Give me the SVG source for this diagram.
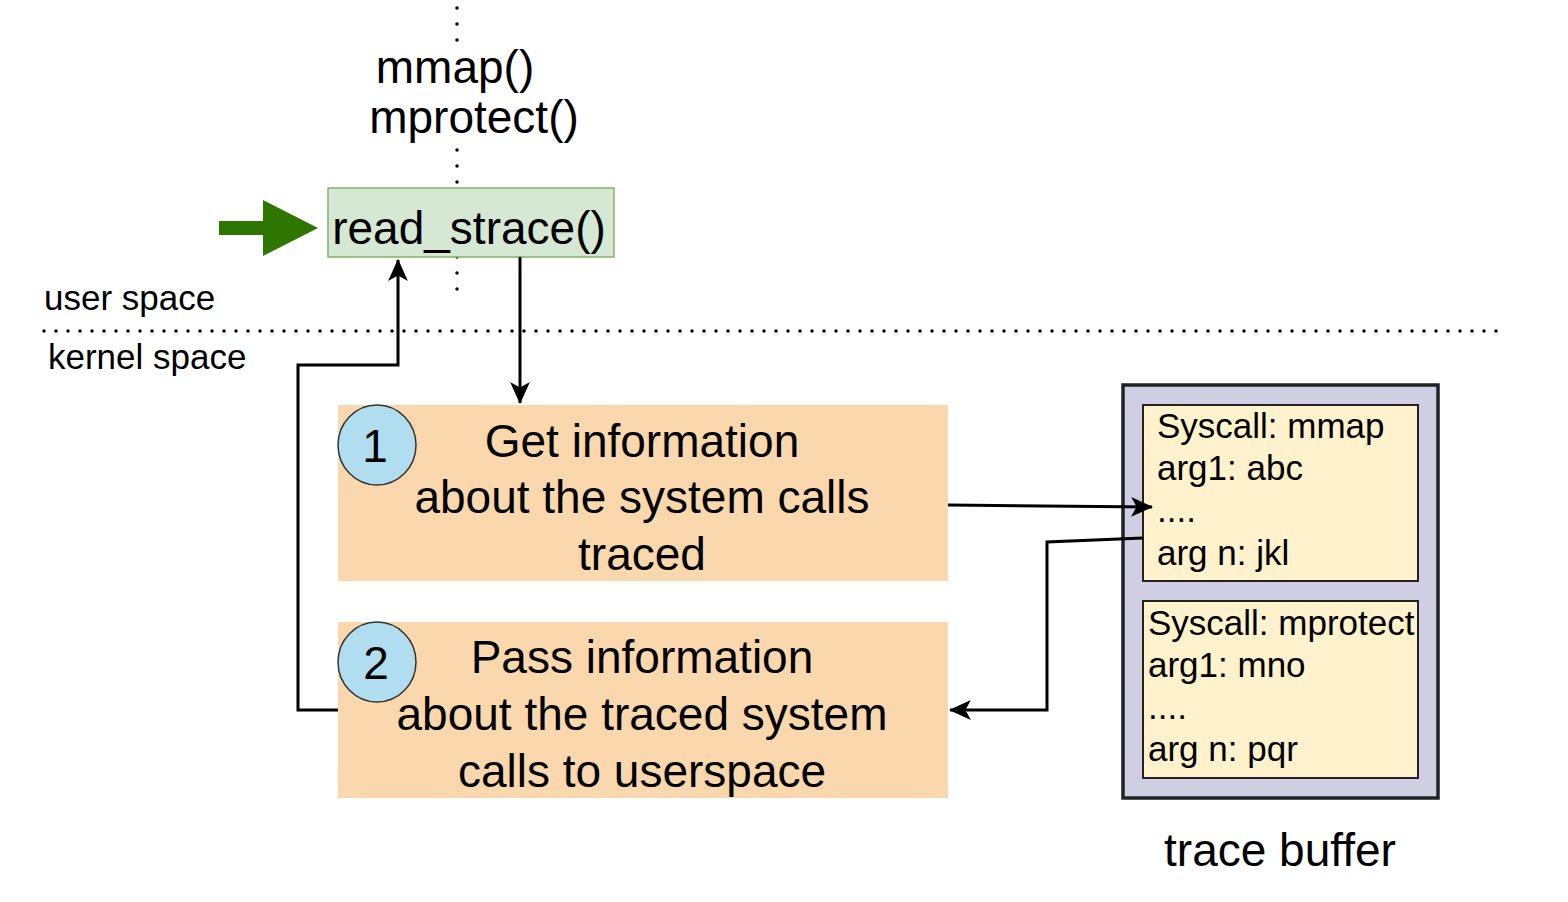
<svg xmlns="http://www.w3.org/2000/svg" width="1568" height="902" viewBox="0 0 1568 902">
<style>
text{font-family:"Liberation Sans",Arial,sans-serif;fill:#000}
.big{font-size:46px}
.mid{font-size:35px}
.lbl{font-size:35px}
.c{text-anchor:middle}
.dot{stroke:#000;stroke-width:3.5;stroke-linecap:round;fill:none}
.edge{stroke:#000;stroke-width:3;fill:none}
</style>
<defs>
<marker id="ah2" viewBox="0 0 20 20" refX="19" refY="10" markerWidth="22" markerHeight="22" markerUnits="userSpaceOnUse" orient="auto">
<path d="M0,1 L20,10 L0,19 L5,10 Z" fill="#000"/>
</marker>
</defs>

<g id="separators">
<path class="dot" d="M457,8 V42" stroke-dasharray="0 16"/>
<path class="dot" d="M457,150 V184" stroke-dasharray="0 16"/>
<path class="dot" d="M457,257 V291" stroke-dasharray="0 16"/>
<path class="dot" d="M44,331 H1497" stroke-dasharray="0 12"/>
</g>

<g id="labels">
<text class="big c" x="455" y="83">mmap()</text>
<text class="big c" x="474" y="133">mprotect()</text>
<text class="lbl" x="44" y="310">user space</text>
<text class="lbl" x="48" y="369">kernel space</text>
<text class="big c" x="1280" y="866">trace buffer</text>
</g>

<g id="start-arrow">
<path d="M219,221 H263 V200 L318,228 L263,256 V235 H219 Z" fill="#2d7600"/>
</g>

<g id="read_strace">
<rect x="328" y="188" width="286" height="69" fill="#d5e8d4" stroke="#82b366" stroke-width="1.5"/>
<text class="big c" x="469" y="244">read_strace()</text>
</g>

<g id="step1">
<rect x="338" y="405" width="610" height="176" fill="#fad7ac"/>
<ellipse cx="377" cy="445" rx="39" ry="40" fill="#b1ddf0" stroke="#333" stroke-width="1.5"/>
<text class="big c" x="375" y="462">1</text>
<text class="big c" x="642" y="457">Get information</text>
<text class="big c" x="642" y="513">about the system calls</text>
<text class="big c" x="642" y="570">traced</text>
</g>

<g id="step2">
<rect x="338" y="622" width="610" height="176" fill="#fad7ac"/>
<ellipse cx="377" cy="662" rx="39" ry="40" fill="#b1ddf0" stroke="#333" stroke-width="1.5"/>
<text class="big c" x="376" y="679">2</text>
<text class="big c" x="642" y="673">Pass information</text>
<text class="big c" x="642" y="730">about the traced system</text>
<text class="big c" x="642" y="787">calls to userspace</text>
</g>

<g id="trace-buffer">
<rect x="1123" y="385" width="315" height="413" fill="#d0cee2" stroke="#222" stroke-width="3.5"/>
<rect x="1143" y="405" width="275" height="176" fill="#fff2cc" stroke="#222" stroke-width="2"/>
<text class="mid" x="1157" y="438">Syscall: mmap</text>
<text class="mid" x="1157" y="480">arg1: abc</text>
<text class="mid" x="1157" y="522">....</text>
<text class="mid" x="1157" y="565">arg n: jkl</text>
<rect x="1143" y="601" width="275" height="177" fill="#fff2cc" stroke="#222" stroke-width="2"/>
<text class="mid" x="1148" y="635">Syscall: mprotect</text>
<text class="mid" x="1148" y="677">arg1: mno</text>
<text class="mid" x="1148" y="719">....</text>
<text class="mid" x="1148" y="761">arg n: pqr</text>
</g>

<g id="connectors">
<path class="edge" d="M520,257 V403" marker-end="url(#ah2)"/>
<path class="edge" d="M338,710 H298 V365 H398 V260" marker-end="url(#ah2)"/>
<path class="edge" d="M948,505 L1152,507" marker-end="url(#ah2)"/>
<path class="edge" d="M1143,538 L1047,542 V710 H950" marker-end="url(#ah2)"/>
</g>
</svg>
